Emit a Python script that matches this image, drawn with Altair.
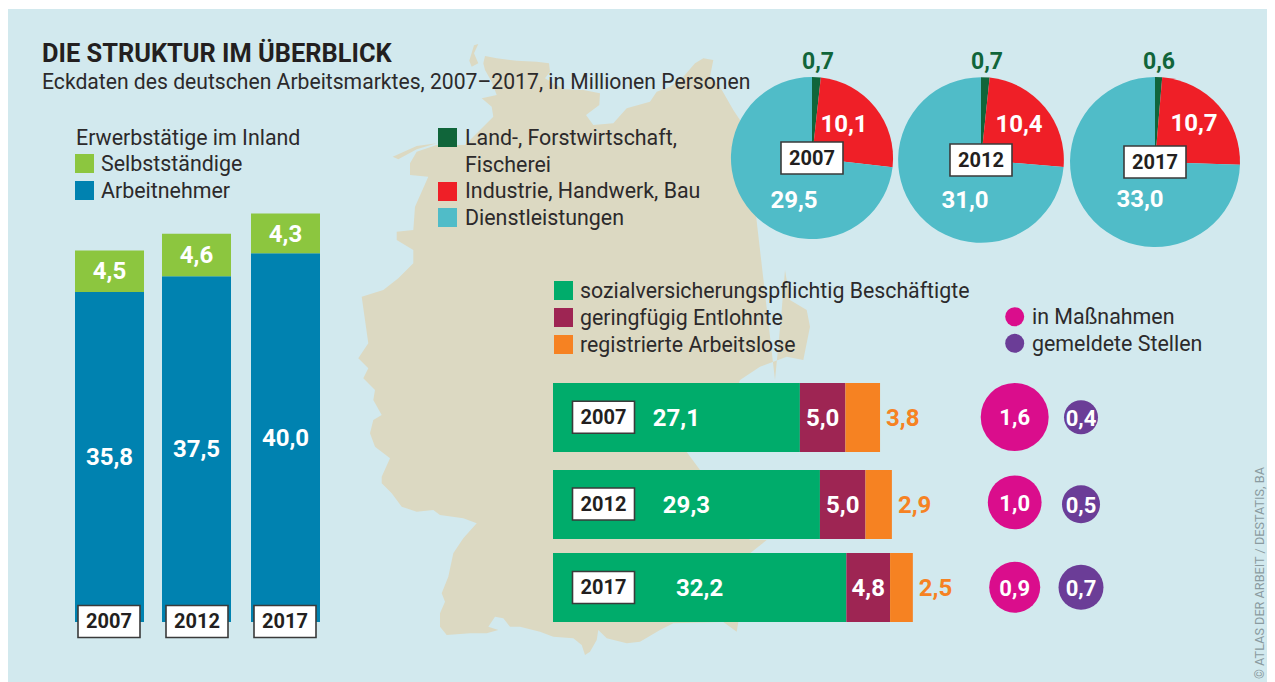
import altair as alt

YEARS = [2007, 2012, 2017]
SELBST = [4.5, 4.6, 4.3]
ARBEITN = [35.8, 37.5, 40.0]
AGRAR = [0.7, 0.7, 0.6]
INDUSTRIE = [10.1, 10.4, 10.7]
DIENST = [29.5, 31.0, 33.0]
SOZIAL = [27.1, 29.3, 32.2]
GERING = [5.0, 5.0, 4.8]
ARBEITSLOS = [3.8, 2.9, 2.5]
MASSN = [1.6, 1.0, 0.9]
STELLEN = [0.4, 0.5, 0.7]

FONT = "Roboto"
INK = "#2c2a2b"
C = dict(bg="#d2e9ee", map="#dcd9c2", lime="#8cc63f", blue="#0082b0", dgreen="#10653a", red="#ef1f27",
         teal="#50bcc8", green="#00ac6b", wine="#9e2553", orange="#f68222", pink="#da0d8c", violet="#6b3d97")

z7 = [(405,78),(440,85),(500,92),(560,95),(597,100),(600,125),(585,145),(640,178),(700,180),(750,190),(748,225),(708,255),(730,285),(790,280),
      (830,235),(900,215),(920,185),(960,170),(1000,140),(1035,100),(1060,85),(1090,90),(1080,140),(1110,170),(1150,240),(1180,285),(1200,400)]
z4 = [(705,330),(725,120),(735,0),(750,90),(800,120),(810,170),(790,270),(740,260),(660,290),(600,330),(570,420)]
z8a = [(1040,336),(1080,390),(1230,600),(1280,600),(1230,640),(1190,875),(1150,846),(1000,850),(960,870),(900,905),(860,910),(800,895),(775,870),(770,900),
       (750,935),(735,945),(725,915),(700,895),(640,890),(600,875),(540,860),(510,860),(490,835),(465,830),(445,860),(475,870),(440,880),(390,880),
       (320,885),(300,860),(300,820),(315,785),(305,760),(325,710),(340,640),(370,595),(410,550),(370,535),(300,525),(280,510),(230,515),(185,500),
       (155,460),(125,430),(125,410),(150,355),(105,320),(90,280),(100,240),(125,225),(100,180),(105,150),(70,115),(85,85),(55,55),(85,10)]
z7b = [(35,800),(100,780),(145,745),(190,700),(190,660),(140,630),(140,605),(190,600),(195,530),(235,440),(180,435),(180,400),(200,365),(260,345),
       (345,345),(390,300),(430,260),(425,230),(395,205),(440,195),(425,155),(405,120),(400,100)]
MAIN = ([(x/3+350, y/3+30) for x, y in z7] + [(x/3+540, y/3+270) for x, y in z4] + [(x/3+340, y/3+340) for x, y in z8a]
        + [(x/3+350, y/3+30) for x, y in z7b])
SYLT = [(x/3+350, y/3+30) for x, y in [(358,92),(372,46),(385,42),(372,70),(385,100),(365,110)]]
FRIES = [(x/3+350, y/3+30) for x, y in [(128,380),(200,348),(260,340),(200,358),(145,388)]]


def to_path(poly):
    return "M" + "L".join(f"{x:.1f},{y:.1f}" for x, y in poly) + "Z"


MAP_PATH = to_path(MAIN) + to_path(SYLT) + to_path(FRIES)
BOX = "M-31,-16H31V16H-31Z"


def de(v):
    return f"{v:.1f}".replace(".", ",")


def one(**kw):
    return alt.Data(values=[dict(a=1, **kw)])


def static(text, x, y, size=21.4, weight="normal", color=INK, **mk):
    return alt.Chart(one(t=text)).mark_text(font=FONT, fontSize=size, fontWeight=weight, color=color,
                                            align=mk.pop("align", "left"), baseline="alphabetic", **mk).encode(
        x=alt.value(x - 8), y=alt.value(y - 8), text="t:N")


def swatch(color, x, y, size=19):
    return alt.Chart(one()).mark_square(size=size * size, color=color, opacity=1).encode(
        x=alt.value(x - 8), y=alt.value(y - 8))


def dot(color, x, y, size=19):
    return alt.Chart(one()).mark_circle(size=size * size, color=color, opacity=1).encode(
        x=alt.value(x - 8), y=alt.value(y - 8))


def yr(axis, rng):
    cls = alt.X if axis == "x" else alt.Y
    return cls("year:Q", axis=None, scale=alt.Scale(domain=YEARS, range=[r - 8 for r in rng], nice=False, zero=False, padding=0))


def year_boxes(xs, ys):
    d = alt.Data(values=[dict(year=y, t=str(y)) for y in YEARS])
    box = alt.Chart(d).mark_point(shape=BOX, size=4, filled=True, fill="white", stroke="#3a3a3a", strokeWidth=1.6, opacity=1).encode(
        x=yr("x", xs), y=yr("y", ys))
    txt = alt.Chart(d).mark_text(font=FONT, fontSize=20, fontWeight="bold", color="#231f20", dy=0.5).encode(
        x=yr("x", xs), y=yr("y", ys), text="t:N")
    return [box, txt]


def white_labels(rows, xenc, yenc, size=24, color="white", **mk):
    return alt.Chart(alt.Data(values=rows)).mark_text(font=FONT, fontSize=size, fontWeight="bold", color=color, dy=1.2, **mk).encode(
        x=xenc, y=yenc, text="t:N")


layers = []
layers.append(alt.Chart(one()).mark_rect(color=C["bg"]).encode(x=alt.value(0), x2=alt.value(1259), y=alt.value(1), y2=alt.value(674)))
layers.append(alt.Chart(one()).mark_point(shape=MAP_PATH, size=4, filled=True, color=C["map"], opacity=1).encode(x=alt.value(-8), y=alt.value(-8)))

# Titles
layers.append(static("DIE STRUKTUR IM ÜBERBLICK", 42, 61.5, size=25.4, weight="bold", color="#231f20"))
layers.append(static("Eckdaten des deutschen Arbeitsmarktes, 2007–2017, in Millionen Personen", 42, 89, size=21.15))

# Left legend
layers.append(static("Erwerbstätige im Inland", 76, 145))
layers += [swatch(C["lime"], 84.5, 163.5), static("Selbstständige", 101, 171),
           swatch(C["blue"], 84.5, 190.5), static("Arbeitnehmer", 101, 198)]

# Left stacked bars
vstack = []
for y, a, s in zip(YEARS, ARBEITN, SELBST):
    vstack.append(dict(year=y, k="Arbeitnehmer", y0=0, y1=a, m=a / 2, t=de(a)))
    vstack.append(dict(year=y, k="Selbstständige", y0=a, y1=a + s, m=a + s / 2, t=de(s)))
LX = [109.5, 196.5, 285.5]
vy = alt.Scale(domain=[0, 50], range=[614, 153], nice=False)
layers.append(alt.Chart(alt.Data(values=vstack)).mark_bar(size=69, orient="vertical").encode(
    x=yr("x", LX), y=alt.Y("y0:Q", axis=None, scale=vy), y2="y1:Q",
    color=alt.Color("k:N", legend=None, scale=alt.Scale(domain=["Arbeitnehmer", "Selbstständige"], range=[C["blue"], C["lime"]]))))
layers.append(white_labels(vstack, yr("x", LX), alt.Y("m:Q", axis=None, scale=vy)))
layers += year_boxes([109, 197, 285], [621.5, 621.5, 621.5])

# Sector legend
layers += [swatch(C["dgreen"], 447.5, 137.5), static("Land-, Forstwirtschaft,", 465, 145), static("Fischerei", 465, 172),
           swatch(C["red"], 447.5, 191.5), static("Industrie, Handwerk, Bau", 465, 198),
           swatch(C["teal"], 447.5, 217.5), static("Dienstleistungen", 465, 225)]

# Pies
pie = []
SECT = ["Land", "Industrie", "Dienst"]
for i, y in enumerate(YEARS):
    vals = [AGRAR[i], INDUSTRIE[i], DIENST[i]]
    tot = sum(vals)
    c = 0
    for k, v in zip(SECT, vals):
        pie.append(dict(year=y, k=k, start=c / tot, end=(c + v) / tot, total=tot, t=de(v)))
        c += v
PX, PY = [812, 981, 1155], [158, 160, 162]
layers.append(alt.Chart(alt.Data(values=pie)).mark_arc().encode(
    x=yr("x", PX), y=yr("y", PY),
    theta=alt.Theta("start:Q", scale=alt.Scale(domain=[0, 1], range=[0, 6.283185])), theta2="end:Q",
    radius=alt.Radius("total:Q", scale=alt.Scale(type="sqrt", domain=[0, 44.3], range=[0, 85])),
    color=alt.Color("k:N", legend=None, scale=alt.Scale(domain=SECT, range=[C["dgreen"], C["red"], C["teal"]]))))
by = lambda k: [r for r in pie if r["k"] == k]
layers.append(white_labels(by("Land"), yr("x", [818, 987, 1159]), yr("y", [61, 61, 61]), size=23, color=C["dgreen"]))
layers.append(white_labels(by("Industrie"), yr("x", [844, 1019, 1194]), yr("y", [124, 124, 123]), size=24))
layers.append(white_labels(by("Dienst"), yr("x", [794, 965, 1140]), yr("y", [200, 200, 199]), size=24))
layers += year_boxes(PX, PY)

# Lower legend
layers += [swatch(C["green"], 563.5, 290.5), static("sozialversicherungspflichtig Beschäftigte", 580, 298, size=21.3),
           swatch(C["wine"], 563.5, 317.5), static("geringfügig Entlohnte", 580, 325, size=21.3),
           swatch(C["orange"], 563.5, 344.5), static("registrierte Arbeitslose", 580, 352, size=21.3)]
layers += [dot(C["pink"], 1014.7, 316.7), static("in Maßnahmen", 1032, 324),
           dot(C["violet"], 1014.7, 343.3), static("gemeldete Stellen", 1032, 350.7)]

# Horizontal stacked bars
hrows = []
for y, a, b, c in zip(YEARS, SOZIAL, GERING, ARBEITSLOS):
    hrows.append(dict(year=y, k="s", x0=0, x1=a, m=a / 2, t=de(a)))
    hrows.append(dict(year=y, k="g", x0=a, x1=a + b, m=a + b / 2, t=de(b)))
    hrows.append(dict(year=y, k="a", x0=a + b, x1=a + b + c, m=a + b + c, t=de(c)))
HY = [417.5, 504.5, 587.5]
hx = alt.Scale(domain=[0, 50], range=[545, 1000.5], nice=False)
layers.append(alt.Chart(alt.Data(values=hrows)).mark_bar(size=69, orient="horizontal").encode(
    y=yr("y", HY), x=alt.X("x0:Q", axis=None, scale=hx), x2="x1:Q",
    color=alt.Color("k:N", legend=None, scale=alt.Scale(domain=["s", "g", "a"], range=[C["green"], C["wine"], C["orange"]]))))
layers.append(white_labels([r for r in hrows if r["k"] != "a"], alt.X("m:Q", axis=None, scale=hx), yr("y", HY)))
layers.append(white_labels([r for r in hrows if r["k"] == "a"], alt.X("m:Q", axis=None, scale=hx), yr("y", HY),
                           color=C["orange"], align="left", dx=6))
layers += year_boxes([603.5, 603.5, 603.5], [417.3, 504, 587.5])

# Bubbles
def bubbles(vals, color, x, ys):
    rows = [dict(year=y, v=v, t=de(v)) for y, v in zip(YEARS, vals)]
    xs = [x, x, x]
    c = alt.Chart(alt.Data(values=rows)).mark_circle(color=color, opacity=1).encode(
        x=yr("x", xs), y=yr("y", ys),
        size=alt.Size("v:Q", legend=None, scale=alt.Scale(domain=[0, 1.6], range=[0, 4621])))
    return [c, white_labels(rows, yr("x", xs), yr("y", ys), size=22)]


layers += bubbles(MASSN, C["pink"], 1014.7, [417, 502.3, 587.3])
layers += bubbles(STELLEN, C["violet"], 1081, [417.3, 504.3, 587.3])

# Credit
layers.append(alt.Chart(one(t="© ATLAS DER ARBEIT / DESTATIS, BA")).mark_text(
    font=FONT, fontSize=12.7, color="#8a9ba0", angle=270, align="left", baseline="middle").encode(
    x=alt.value(1260 - 8), y=alt.value(679 - 8), text="t:N"))

chart = alt.layer(*layers).resolve_scale(x="independent", y="independent", color="independent",
                                         size="independent", theta="independent", radius="independent").properties(
    width=1259, height=674, padding=0, background="white",
    autosize=alt.AutoSizeParams(type="none")).configure_view(stroke=None)

chart.save("out.html", embed_options={"renderer": "svg", "actions": False})
